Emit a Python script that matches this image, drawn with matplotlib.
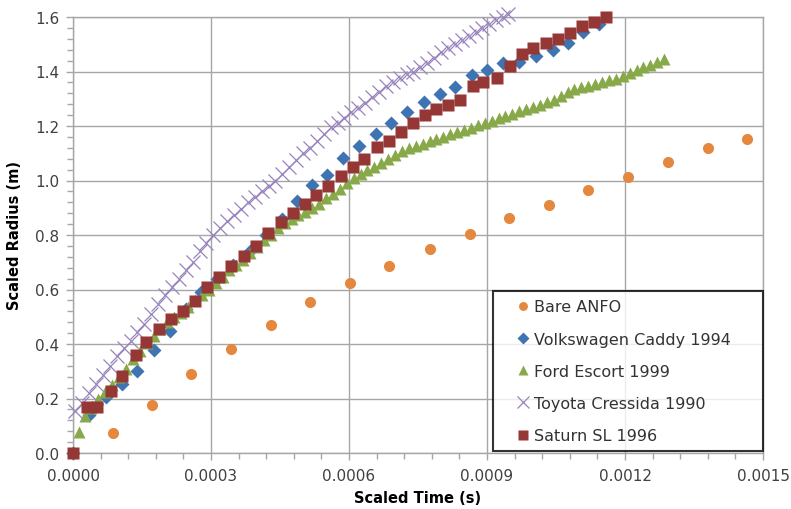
import numpy as np
import matplotlib.pyplot as plt
from matplotlib.ticker import MultipleLocator, FormatStrFormatter

# scaled time in units of 1e-4 s, scaled radius in m
anfo_t = [0.876, 1.71, 2.57, 3.43, 4.31, 5.16, 6.02, 6.88, 7.75, 8.62, 9.48,
          10.35, 11.2, 12.07, 12.93, 13.8, 14.66]
anfo_r = [0.075, 0.177, 0.291, 0.381, 0.470, 0.554, 0.625, 0.686, 0.749, 0.805,
          0.861, 0.909, 0.965, 1.013, 1.068, 1.120, 1.153]

vw_t = [0, 0.348, 0.707, 1.065, 1.402, 1.750, 2.098, 2.446, 2.793, 3.141, 3.489,
        3.837, 4.185, 4.533, 4.880, 5.189, 5.515, 5.876, 6.224, 6.587, 6.913,
        7.254, 7.635, 7.978, 8.315, 8.667, 9.0, 9.354, 9.696, 10.07, 10.424,
        10.76, 11.09, 11.435]
vw_r = [0, 0.14, 0.205, 0.252, 0.30, 0.377, 0.448, 0.53, 0.59, 0.64, 0.69,
        0.74, 0.80, 0.86, 0.925, 0.985, 1.022, 1.081, 1.128, 1.171, 1.211,
        1.252, 1.288, 1.318, 1.344, 1.387, 1.407, 1.432, 1.436, 1.457, 1.48,
        1.505, 1.544, 1.574]

ford_t = [0.13, 0.27, 0.40, 0.55, 0.70, 0.85, 1.00, 1.15, 1.30, 1.45, 1.60,
          1.75, 1.90, 2.05, 2.20, 2.35, 2.50, 2.65, 2.80, 2.95, 3.10, 3.25,
          3.40, 3.55, 3.70, 3.85, 4.00, 4.15, 4.30, 4.45, 4.60, 4.75, 4.90,
          5.05, 5.20, 5.35, 5.50, 5.65, 5.80, 5.95, 6.10, 6.25, 6.40, 6.55,
          6.70, 6.85, 7.00, 7.15, 7.30, 7.45, 7.60, 7.75, 7.90, 8.05, 8.20,
          8.35, 8.50, 8.65, 8.80, 8.95, 9.10, 9.25, 9.40, 9.55, 9.70, 9.85,
          10.00, 10.15, 10.30, 10.45, 10.60, 10.75, 10.90, 11.05, 11.20,
          11.35, 11.50, 11.65, 11.80, 11.95, 12.10, 12.25, 12.40, 12.55,
          12.70, 12.85]
ford_r = [0.076, 0.137, 0.165, 0.20, 0.225, 0.25, 0.28, 0.31, 0.345, 0.375,
          0.405, 0.43, 0.455, 0.48, 0.50, 0.515, 0.535, 0.56, 0.58, 0.60,
          0.625, 0.645, 0.67, 0.69, 0.71, 0.735, 0.755, 0.78, 0.80, 0.825,
          0.845, 0.86, 0.875, 0.885, 0.90, 0.915, 0.935, 0.95, 0.97, 0.99,
          1.01, 1.025, 1.04, 1.05, 1.065, 1.08, 1.095, 1.11, 1.12, 1.125,
          1.135, 1.145, 1.152, 1.16, 1.17, 1.178, 1.186, 1.193, 1.202, 1.212,
          1.22, 1.228, 1.236, 1.245, 1.255, 1.262, 1.27, 1.278, 1.287, 1.296,
          1.31, 1.325, 1.335, 1.343, 1.348, 1.354, 1.36, 1.367, 1.374, 1.382,
          1.393, 1.405, 1.415, 1.425, 1.435, 1.445]

toyota_t = [0.05, 0.20, 0.35, 0.50, 0.65, 0.80, 0.95, 1.10, 1.25, 1.40, 1.55,
            1.70, 1.85, 2.00, 2.15, 2.30, 2.45, 2.60, 2.75, 2.90, 3.05, 3.20,
            3.35, 3.50, 3.65, 3.80, 3.95, 4.10, 4.25, 4.40, 4.55, 4.70, 4.85,
            5.00, 5.15, 5.30, 5.45, 5.60, 5.75, 5.90, 6.05, 6.20, 6.35, 6.50,
            6.65, 6.80, 6.95, 7.10, 7.25, 7.40, 7.55, 7.70, 7.85, 8.00, 8.15,
            8.30, 8.45, 8.60, 8.75, 8.90, 9.05, 9.20, 9.35, 9.46]
toyota_r = [0.155, 0.185, 0.22, 0.255, 0.285, 0.32, 0.355, 0.385, 0.41, 0.445,
            0.475, 0.51, 0.545, 0.578, 0.61, 0.64, 0.67, 0.70, 0.74, 0.77,
            0.80, 0.825, 0.85, 0.875, 0.895, 0.92, 0.94, 0.96, 0.98, 1.00,
            1.025, 1.05, 1.075, 1.10, 1.12, 1.145, 1.17, 1.195, 1.21, 1.23,
            1.25, 1.265, 1.285, 1.305, 1.325, 1.345, 1.36, 1.375, 1.39, 1.40,
            1.415, 1.43, 1.45, 1.47, 1.485, 1.50, 1.515, 1.53, 1.545, 1.56,
            1.575, 1.59, 1.60, 1.61]

saturn_t = [0, 0.298, 0.528, 0.820, 1.072, 1.363, 1.593, 1.876, 2.141, 2.396,
            2.652, 2.907, 3.180, 3.441, 3.717, 3.978, 4.246, 4.511, 4.783,
            5.043, 5.283, 5.550, 5.820, 6.080, 6.326, 6.602, 6.870, 7.130,
            7.398, 7.657, 7.900, 8.159, 8.413, 8.689, 8.920, 9.211, 9.500,
            9.754, 10.007, 10.291, 10.533, 10.804, 11.059, 11.326, 11.587]
saturn_r = [0, 0.168, 0.168, 0.229, 0.284, 0.360, 0.409, 0.455, 0.490, 0.522,
            0.558, 0.608, 0.645, 0.685, 0.722, 0.761, 0.807, 0.847, 0.882,
            0.914, 0.947, 0.979, 1.018, 1.048, 1.079, 1.122, 1.146, 1.179,
            1.211, 1.239, 1.264, 1.277, 1.296, 1.348, 1.362, 1.375, 1.421,
            1.466, 1.486, 1.506, 1.519, 1.540, 1.568, 1.580, 1.601]

labels = ["Bare ANFO", "Volkswagen Caddy 1994", "Ford Escort 1999",
          "Toyota Cressida 1990", "Saturn SL 1996"]

fig = plt.figure(figsize=(7.91, 5.10), dpi=100)
ax = fig.add_axes([73/791, 1 - 454/510, 690/791, 436/510])

s = 1e-4
ax.plot(np.array(anfo_t)*s, anfo_r, 'o', color='#E5883F', ms=8, mec='none',
        label=labels[0], clip_on=False, zorder=3)
ax.plot(np.array(vw_t)*s, vw_r, 'D', color='#3E74B2', ms=7.5, mec='none',
        label=labels[1], clip_on=False, zorder=3)
ax.plot(np.array(ford_t)*s, ford_r, '^', color='#88A94A', ms=8.5, mec='none',
        label=labels[2], clip_on=False, zorder=3)
ax.plot(np.array(toyota_t)*s, toyota_r, 'x', color='#9883BE', ms=10, mew=0.9,
        label=labels[3], clip_on=False, zorder=3)
ax.plot(np.array(saturn_t)*s, saturn_r, 's', color='#953735', ms=9, mec='none',
        label=labels[4], clip_on=False, zorder=3)

ax.set_xlim(0, 0.0015)
ax.set_ylim(0, 1.6)
ax.xaxis.set_major_locator(MultipleLocator(0.0003))
ax.xaxis.set_minor_locator(MultipleLocator(0.00006))
ax.yaxis.set_major_locator(MultipleLocator(0.2))
ax.yaxis.set_minor_locator(MultipleLocator(0.04))
ax.xaxis.set_major_formatter(FormatStrFormatter('%.4f'))
ax.yaxis.set_major_formatter(FormatStrFormatter('%.1f'))

grey = '#A6A6A6'
ax.grid(which='major', color=grey, lw=1, zorder=0)
ax.set_axisbelow(True)
for sp in ax.spines.values():
    sp.set_color(grey)
    sp.set_linewidth(1)
ax.tick_params(which='both', direction='out', color=grey, width=1,
               labelsize=11, labelcolor='#404040')
ax.tick_params(which='major', length=5)
ax.tick_params(which='minor', length=4)
ax.tick_params(axis='x', pad=6)
ax.tick_params(axis='y', pad=5)

ax.set_xlabel('Scaled Time (s)', fontsize=10.5, fontweight='bold', labelpad=5)
ax.set_ylabel('Scaled Radius (m)', fontsize=10.5, fontweight='bold', labelpad=9)

# legend box sits in the lower right corner of the plot area
leg = ax.legend(loc='lower left', bbox_to_anchor=(0.609, 0.004, 0.391, 0.377),
                mode='expand', borderaxespad=0, fontsize=11.5, frameon=True,
                fancybox=False, handlelength=2.75, handletextpad=-0.7,
                labelspacing=1.08, borderpad=0.5, markerscale=0.8)
leg.get_frame().set_edgecolor('black')
leg.get_frame().set_linewidth(1.5)
leg.set_zorder(5)
for t in leg.get_texts():
    t.set_color('#333333')

fig.savefig('out.png', dpi=100)
